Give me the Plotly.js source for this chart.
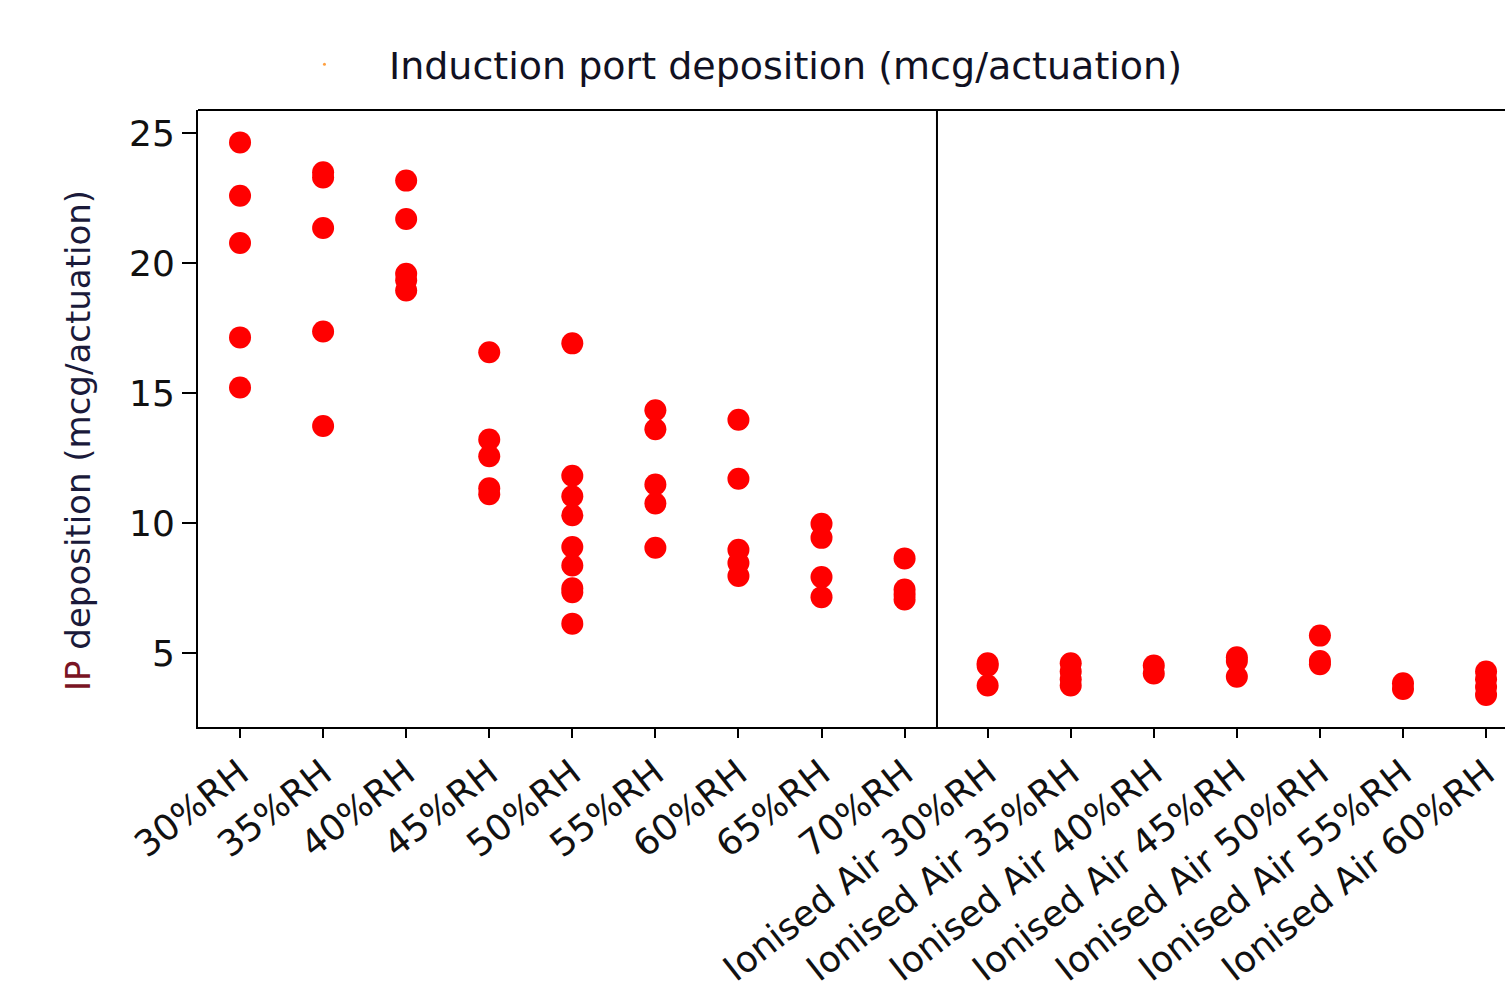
<!DOCTYPE html>
<html>
<head>
<meta charset="utf-8">
<script src="https://cdn.plot.ly/plotly-3.0.1.min.js"></script>
<style>
html,body{margin:0;padding:0;background:#fff;overflow:hidden;}
#chart{width:1505px;height:995px;}
</style>
</head>
<body>
<div id="chart"></div>
<script>
// Categories (x-axis tick labels)
const categories = [
  "30%RH","35%RH","40%RH","45%RH","50%RH","55%RH","60%RH","65%RH","70%RH",
  "Ionised Air 30%RH","Ionised Air 35%RH","Ionised Air 40%RH","Ionised Air 45%RH",
  "Ionised Air 50%RH","Ionised Air 55%RH","Ionised Air 60%RH"
];

// IP deposition (mcg/actuation) per condition
const rh30 = [24.65, 22.6, 20.78, 17.15, 15.22];
const rh35 = [23.5, 23.3, 21.36, 17.38, 13.74];
const rh40 = [23.18, 21.7, 19.6, 19.35, 18.95];
const rh45 = [16.58, 13.22, 12.58, 11.35, 11.12];
const rh50 = [16.92, 11.83, 11.04, 10.31, 9.09, 8.38, 7.5, 7.35, 6.14];
const rh55 = [14.35, 13.62, 11.49, 10.76, 9.06];
const rh60 = [13.98, 11.71, 8.98, 8.47, 7.97];
const rh65 = [9.98, 9.44, 7.93, 7.16];
const rh70 = [8.65, 7.45, 7.25, 7.07];
const ia30 = [4.62, 4.52, 3.76];
const ia35 = [4.62, 4.3, 4.0, 3.76];
const ia40 = [4.53, 4.22];
const ia45 = [4.85, 4.7, 4.1];
const ia50 = [5.68, 4.7, 4.58];
const ia55 = [3.85, 3.63];
const ia60 = [4.3, 4.0, 3.7, 3.4];

const groups = [rh30, rh35, rh40, rh45, rh50, rh55, rh60, rh65, rh70,
                ia30, ia35, ia40, ia45, ia50, ia55, ia60];

const legendLabel = "Induction port deposition (mcg/actuation)";
const yTitle = "deposition (mcg/actuation)";
const yTitlePrefix = "IP";
const yTicks = [5, 10, 15, 20, 25];
const dividerAfter = 8.39; // boundary between plain RH and Ionised Air groups (category units)

const xs = [], ys = [];
groups.forEach((g, i) => g.forEach(v => { xs.push(categories[i]); ys.push(v); }));

const FONT = "DejaVu Sans, Verdana, sans-serif";

const traces = [
  {
    type: "scatter", mode: "markers",
    x: xs, y: ys,
    marker: {color: "#ff0000", size: 22, line: {width: 0}},
    showlegend: false, hoverinfo: "x+y"
  },
  {
    type: "scatter", mode: "markers",
    x: [null], y: [null],
    name: legendLabel,
    marker: {color: "#ffa040", size: 3},
    showlegend: true
  }
];

const layout = {
  width: 1505, height: 995,
  margin: {l: 198, r: 0, t: 110, b: 268, pad: 0},
  paper_bgcolor: "#ffffff", plot_bgcolor: "#ffffff",
  font: {family: FONT, color: "#111111", size: 34},
  showlegend: true,
  legend: {
    orientation: "h", x: 0.0474, xanchor: "left", y: 1.0227, yanchor: "bottom",
    font: {family: FONT, size: 38, color: "#111122"},
    itemwidth: 119, bgcolor: "rgba(0,0,0,0)", borderwidth: 0
  },
  xaxis: {
    type: "category",
    categoryorder: "array", categoryarray: categories,
    range: [-0.506, 15.228],
    showline: true, linecolor: "#000", linewidth: 2,
    ticks: "outside", ticklen: 9, tickwidth: 2, tickcolor: "#000",
    tickangle: -38,
    tickfont: {family: FONT, size: 36, color: "#111"},
    showgrid: false, zeroline: false, automargin: false
  },
  yaxis: {
    range: [2.165, 25.896],
    tickvals: yTicks,
    showline: true, linecolor: "#000", linewidth: 2,
    ticks: "outside", ticklen: 14, tickwidth: 2, tickcolor: "#000",
    tickfont: {family: FONT, size: 36, color: "#111"},
    showgrid: false, zeroline: false, automargin: false
  },
  annotations: [
    {
      xref: "paper", yref: "paper", x: -0.0918, y: 0.4635,
      xanchor: "center", yanchor: "middle", textangle: -90, showarrow: false,
      text: '<span style="color:#7a1424">' + yTitlePrefix + '</span> ' + yTitle,
      font: {family: FONT, size: 34, color: "#1a1a3a"}
    }
  ],
  shapes: [
    {type: "line", xref: "paper", yref: "paper", x0: 0, x1: 1, y0: 1, y1: 1,
     line: {color: "#000", width: 2}},
    {type: "line", xref: "x", yref: "paper", x0: dividerAfter, x1: dividerAfter, y0: 0, y1: 1,
     line: {color: "#000", width: 2}},
    {type: "circle", xref: "paper", yref: "paper", x0: 1.0565, x1: 1.0595, y0: -0.125, y1: -0.128,
     line: {width: 0}, fillcolor: "#ffa040", layer: "above"}
  ]
};

Plotly.newPlot("chart", traces, layout, {displayModeBar: false, staticPlot: true});
</script>
</body>
</html>
